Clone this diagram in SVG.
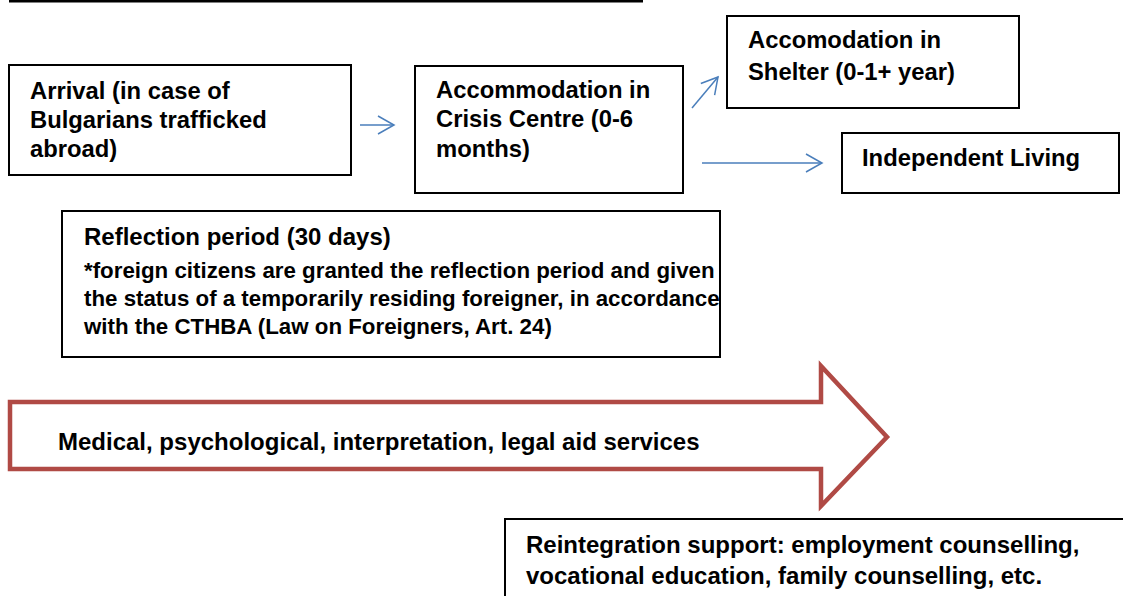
<svg xmlns="http://www.w3.org/2000/svg" width="1123" height="596" viewBox="0 0 1123 596">
<defs>
<style>
.box{fill:#fff;stroke:#000;stroke-width:2}
.t{font-family:"Liberation Sans",Arial,sans-serif;font-weight:bold;fill:#000;font-size:23.8px}
.t24{font-size:24px}
.tb{font-size:22.3px}
.conn{stroke:#4a7ebb;stroke-width:1.5;fill:none}
</style>
<marker id="ah" markerUnits="userSpaceOnUse" markerWidth="22" markerHeight="22" viewBox="0 0 22 22" refX="19" refY="11" orient="auto">
<path d="M3,2 L19,11 L3,20" fill="none" stroke="#4a7ebb" stroke-width="1.5"/>
</marker>
</defs>
<rect width="1123" height="596" fill="#fff"/>
<rect x="9" y="0" width="634" height="2.5" fill="#000"/>

<g id="arrival">
<rect class="box" x="9" y="65" width="342" height="110"/>
<text class="t" x="30" y="99">Arrival (in case of</text>
<text class="t" x="30" y="128">Bulgarians trafficked</text>
<text class="t" x="30" y="157">abroad)</text>
</g>

<g id="crisis">
<rect class="box" x="415" y="66" width="268" height="127"/>
<text class="t" x="436" y="98">Accommodation in</text>
<text class="t" x="436" y="127">Crisis Centre (0-6</text>
<text class="t" x="436" y="157">months)</text>
</g>

<g id="shelter">
<rect class="box" x="727" y="16" width="292" height="92" stroke-width="2.4"/>
<text class="t" x="748" y="48">Accomodation in</text>
<text class="t" x="748" y="80">Shelter (0-1+ year)</text>
</g>

<g id="independent">
<rect class="box" x="842" y="133" width="277" height="60" stroke-width="2.4"/>
<text class="t" x="862" y="166">Independent Living</text>
</g>

<g id="reflection">
<rect class="box" x="62" y="211" width="658" height="146"/>
<text class="t t24" x="84" y="245">Reflection period (30 days)</text>
<text class="t tb" x="84" y="278">*foreign citizens are granted the reflection period and given</text>
<text class="t tb" x="84" y="306">the status of a temporarily residing foreigner, in accordance</text>
<text class="t tb" x="84" y="334">with the CTHBA (Law on Foreigners, Art. 24)</text>
</g>

<g id="services">
<polygon points="10,402 821,402 821,366 887,437 821,506 821,469 10,469" fill="#fff" stroke="#b04a45" stroke-width="4.5"/>
<text class="t t24" x="58" y="450">Medical, psychological, interpretation, legal aid services</text>
</g>

<g id="reintegration">
<rect class="box" x="505" y="519" width="640" height="100"/>
<text class="t t24" x="526" y="553">Reintegration support: employment counselling,</text>
<text class="t t24" x="526" y="584">vocational education, family counselling, etc.</text>
</g>

<g id="connectors">
<line class="conn" x1="360" y1="125" x2="394" y2="125" marker-end="url(#ah)"/>
<line class="conn" x1="692" y1="108" x2="718" y2="77" marker-end="url(#ah)"/>
<line class="conn" x1="702" y1="163" x2="822" y2="163" marker-end="url(#ah)"/>
</g>
</svg>
